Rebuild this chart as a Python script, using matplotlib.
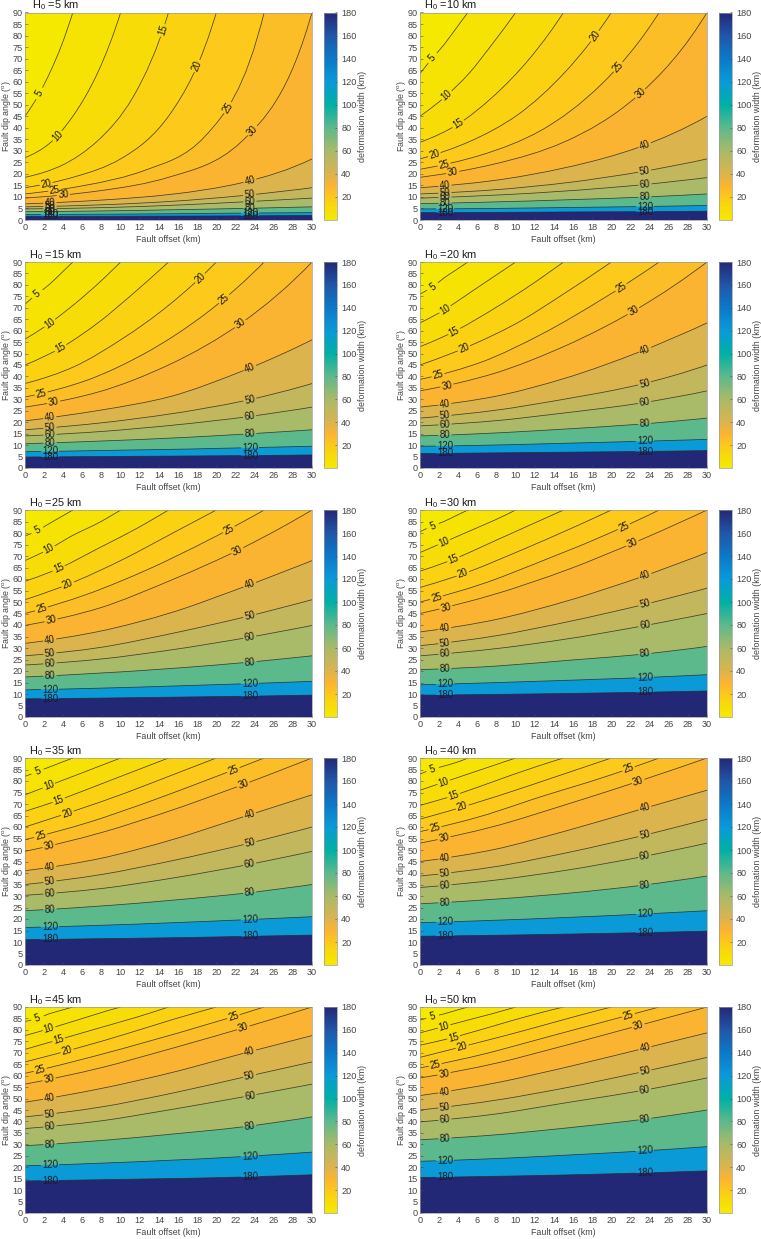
import matplotlib
matplotlib.use('Agg')
import matplotlib.pyplot as plt
import numpy as np
from matplotlib.colors import LinearSegmentedColormap, Normalize
from matplotlib.cm import ScalarMappable
from matplotlib.path import Path
from matplotlib.patches import PathPatch

plt.rcParams['font.family'] = ['Liberation Sans', 'DejaVu Sans']
plt.rcParams['mathtext.fontset'] = 'custom'
plt.rcParams['mathtext.rm'] = 'Liberation Sans'
plt.rcParams['mathtext.default'] = 'regular'

FIG_W, FIG_H = 761, 1239
GREY = '#454545'

# --- Contour levels, deformation width (km) ---
LEVELS = [5, 10, 15, 20, 25, 30, 40, 50, 60, 80, 120, 180]

OFFSETS = [
    [0, 1.25, 2.5, 3.75, 5],
    [0, 2.5, 5, 7.5, 10],
    [0, 3.75, 7.5, 11.25, 15],
    [0, 5, 10, 15, 20],
    [0, 6.25, 12.5, 18.75, 25],
    [0, 7.5, 15, 22.5, 30],
    [0, 7.5, 15, 22.5, 30],
    [0, 7.5, 15, 22.5, 30],
    [0, 7.5, 15, 22.5, 30],
    [0, 7.5, 15, 22.5, 30],
    [0, 7.5, 15, 22.5, 30],
    [0, 7.5, 15, 22.5, 30],
]

# --- Dip angle (deg) of each contour, one row per level ---
DIP_H05 = [
    [45, 53, 63, 75, 90], [27, 33, 45, 63, 90], [18.5, 23.5, 34, 53, 90],
    [14, 18.5, 26.5, 45, 90], [11.3, 15, 21.5, 36, 90], [9.5, 12.5, 18.5, 33.5, 90],
    [7, 8.5, 11, 16, 26.5], [5.7, 6.5, 8, 10.5, 14], [4.8, 5.3, 6.3, 7.8, 9.5],
    [3.6, 3.9, 4.4, 5, 5.7], [2.4, 2.5, 2.7, 3, 3.2], [1.6, 1.6, 1.7, 1.8, 2],
]
DIP_H10 = [
    [63.5, 70, 76, 83, 90], [45, 53, 63, 76, 90], [33.7, 41, 53, 69, 90],
    [26.5, 33.7, 45, 63.4, 90], [22, 28, 38.5, 58, 90], [18.5, 24, 33.7, 53, 90],
    [14, 17, 22.5, 31, 45], [11.3, 13, 16, 20.5, 26.5], [9.5, 10.7, 12.5, 15, 18.4],
    [7.1, 7.8, 8.7, 9.8, 11.3], [4.8, 5, 5.4, 5.8, 6.3], [3.2, 3.3, 3.5, 3.6, 3.8],
]
DIP_H15 = [
    [71.6, 76, 80, 85, 90], [56.3, 63, 71, 80, 90], [45, 52.5, 63, 76, 90],
    [36.9, 44, 56, 71, 90], [31, 38, 50, 67, 90], [26.6, 33, 45, 63, 90],
    [20.6, 25, 31, 42, 56], [16.7, 19.5, 23.5, 29, 36.9], [14, 15.8, 18.5, 22, 26.6],
    [10.6, 11.7, 13, 14.7, 16.7], [7.1, 7.6, 8.1, 8.8, 9.5], [4.8, 5, 5.2, 5.4, 5.7],
]
DIP_H20 = [
    [76, 79, 83, 86.5, 90], [63.4, 69, 76, 83, 90], [53, 60, 69, 79, 90],
    [45, 53, 63, 76, 90], [38.7, 46, 58, 73, 90], [33.7, 41, 53, 69, 90],
    [26.6, 31, 39, 50, 63.4], [21.8, 25, 30, 36, 45], [18.4, 20.5, 24, 28, 33.7],
    [14, 15.2, 17, 19, 21.8], [9.5, 10, 10.8, 11.6, 12.5], [6.3, 6.6, 6.9, 7.2, 7.6],
]
DIP_H25 = [
    [78.7, 81, 84, 87, 90], [68, 73, 79, 84, 90], [59, 65, 73, 81, 90],
    [51, 58.5, 68, 79, 90], [45, 53, 63.5, 76, 90], [39.8, 47, 59, 73, 90],
    [32, 37, 45, 56, 68], [26.6, 30, 36, 43, 51], [22.6, 25, 29, 34, 39.8],
    [17.4, 19, 21, 23.5, 26.6], [11.8, 12.5, 13.4, 14.4, 15.5], [7.9, 8.2, 8.6, 9, 9.5],
]
DIP_H30 = [
    [80.5, 83, 85, 87.5, 90], [71.5, 76, 80.5, 85, 90], [63.4, 69, 76, 83, 90],
    [56.3, 63, 71.5, 80.5, 90], [50, 57.5, 67.4, 78, 90], [45, 53, 63.4, 76, 90],
    [37, 42, 50, 60, 71.5], [31, 35, 41, 48, 56], [26.6, 29.5, 33.7, 39, 45],
    [20.6, 22, 24.5, 27, 30.7], [14, 14.9, 15.9, 17, 18.4], [9.5, 9.8, 10.2, 10.7, 11.3],
]
DIP_H35 = [
    [82, 84, 86, 88, 90], [74, 78, 82, 86, 90], [66.8, 72, 78, 84, 90],
    [60, 66.8, 74, 82, 90], [54.5, 61.5, 70.3, 80, 90], [49.4, 57, 66.8, 78, 90],
    [41, 46, 54, 64, 74], [35, 39, 45, 52, 60], [30.3, 33, 37.5, 43, 49.4],
    [23.6, 25.5, 28, 31, 35], [16.3, 17.2, 18.3, 19.6, 21], [11, 11.4, 11.8, 12.4, 13],
]
DIP_H40 = [
    [83, 85, 86.5, 88, 90], [76, 79.5, 83, 86.5, 90], [69.4, 74, 79.5, 85, 90],
    [63.4, 69.4, 76, 83, 90], [58, 64.5, 73, 81, 90], [53, 60, 69.4, 79.4, 90],
    [45, 50, 58, 67, 76], [38.7, 42.5, 48.5, 55.5, 63.4], [33.7, 36.7, 41, 46.5, 53],
    [26.6, 28.5, 31, 34.3, 38.7], [18.4, 19.4, 20.6, 22, 23.6], [12.5, 12.9, 13.4, 14, 14.7],
]
DIP_H45 = [
    [83.7, 85, 87, 88.5, 90], [77.5, 80.5, 83.7, 87, 90], [71.5, 76, 80.5, 85, 90],
    [66, 71.5, 77.5, 84, 90], [61, 67.4, 74.5, 82, 90], [56.3, 63, 71.5, 80.5, 90],
    [48.4, 54, 61, 69.4, 77.5], [42, 46, 52, 59, 66], [36.9, 40, 45, 50.5, 56.3],
    [29.4, 31.5, 34.3, 37.5, 42], [20.6, 21.7, 23, 24.6, 26.6], [14, 14.5, 15, 15.7, 16.7],
]
DIP_H50 = [
    [84.3, 85.7, 87, 88.5, 90], [78.7, 81.5, 84.3, 87, 90], [73.3, 77, 81.5, 86, 90],
    [68, 73.3, 78.7, 84.5, 90], [63.4, 69, 76, 83, 90], [59, 65, 73, 81.5, 90],
    [51.3, 56.5, 63.4, 71, 78.7], [45, 49, 54.5, 61, 68], [39.8, 43, 48, 53, 59],
    [32, 34, 37, 40.5, 45], [22.6, 23.7, 25.2, 26.9, 29], [15.5, 16, 16.6, 17.4, 18.4],
]

# --- Offsets (km) of the inline contour labels, one row per level ---
LOW = [2.6, 23.5]
LABELS_H05 = [[1.5], [3.4], [14.4], [2.2, 18], [3.1, 21.2], [4, 23.8], LOW, LOW, LOW, LOW, LOW, LOW]
LABELS_H10 = [[1.3], [2.8], [4], [1.5, 18.3], [2.5, 20.7], [3.4, 23], LOW, LOW, LOW, LOW, LOW, LOW]
LABELS_H15 = [[1.3], [2.6], [3.7], [18.3], [1.7, 20.8], [3, 22.5], LOW, LOW, LOW, LOW, LOW, LOW]
LABELS_H20 = [[1.3], [2.6], [3.6], [4.6], [1.9, 21], [2.8, 22.3], LOW, LOW, LOW, LOW, LOW, LOW]
LABELS_H25 = [[1.3], [2.5], [3.5], [4.5], [1.7, 21.3], [2.7, 22.2], LOW, LOW, LOW, LOW, LOW, LOW]
LABELS_H30 = LABELS_H25
LABELS_H35 = [[1.3], [2.5], [3.5], [4.4], [1.6, 21.8], [2.5, 22.8], LOW, LOW, LOW, LOW, LOW, LOW]

DEPTHS = [5, 10, 15, 20, 25, 30, 35, 40, 45, 50]
DIPS = [DIP_H05, DIP_H10, DIP_H15, DIP_H20, DIP_H25, DIP_H30, DIP_H35, DIP_H40, DIP_H45, DIP_H50]
LABEL_OFFSETS = [LABELS_H05, LABELS_H10, LABELS_H15, LABELS_H20, LABELS_H25, LABELS_H30,
                 LABELS_H35, LABELS_H35, LABELS_H35, LABELS_H35]

# --- Colour scale ---
CBAR_VALUES = [0, 10, 20, 30, 40, 60, 80, 100, 120, 140, 160, 180]
CBAR_COLOURS = ['#f5e900', '#f8dc08', '#fdc81c', '#fbb432', '#dbb44f', '#a9ba68',
                '#5cb98c', '#00b0a5', '#0a9ad8', '#0c78c8', '#2056a8', '#232876']
norm = Normalize(0, 180)
cmap = LinearSegmentedColormap.from_list(
    'width', [(v / 180, c) for v, c in zip(CBAR_VALUES, CBAR_COLOURS)], N=512)

# Pixel boxes of the panels
COL_X = [(25, 312, 324, 337), (420, 707, 719, 732)]
ROW_Y = [(12.5, 220), (262, 468), (510, 717), (758, 965), (1007, 1213)]


def px_box(x0, x1, y0, y1):
    return [x0 / FIG_W, 1 - y1 / FIG_H, (x1 - x0) / FIG_W, (y1 - y0) / FIG_H]


def curve_path(x, y):
    # Bezier path through the read points, tangents from neighbouring slopes
    x, y = np.asarray(x, dtype=float), np.asarray(y, dtype=float)
    h = x[1] - x[0]
    d = np.maximum(np.diff(y), 1e-3)
    m = np.zeros(len(y))
    m[1:-1] = np.sqrt(d[:-1] * d[1:])
    m[0] = d[0] ** 2 / m[1]
    m[-1] = d[-1] ** 2 / m[-2]
    verts = [(x[0], y[0])]
    for i in range(len(x) - 1):
        verts += [(x[i] + h / 3, y[i] + m[i] / 3),
                  (x[i + 1] - h / 3, y[i + 1] - m[i + 1] / 3),
                  (x[i + 1], y[i + 1])]
    codes = [Path.MOVETO] + [Path.CURVE4] * (len(verts) - 1)
    return verts, codes


def draw_panel(ax, depth, dips, label_offsets, title_dx):
    ax.set_xlim(0, 30)
    ax.set_ylim(0, 90)
    ax.set_facecolor(cmap(norm(0)))

    # Bands, painted from the top of the panel downwards
    for level, xs, ys in zip(LEVELS, OFFSETS, dips):
        verts, codes = curve_path(xs, ys)
        closed = verts + [(30, 90), (30, 0), (0, 0), (0, ys[0])]
        if xs[-1] == 30:
            closed = verts + [(30, 0), (0, 0), (0, ys[0])]
        patch_codes = codes + [Path.LINETO] * (len(closed) - len(verts) - 1) + [Path.CLOSEPOLY]
        ax.add_patch(PathPatch(Path(closed, patch_codes), fc=cmap(norm(level)), ec='none', zorder=1))

    # Lines with gaps for the labels
    for level, xs, ys, lab_x in zip(LEVELS, OFFSETS, dips, label_offsets):
        verts, codes = curve_path(xs, ys)
        poly = Path(verts, codes).transformed(ax.transData).to_polygons(closed_only=False)[0]
        seg = np.hypot(*np.diff(poly, axis=0).T)
        dist = np.concatenate([[0], np.cumsum(seg)])
        t = np.arange(0, dist[-1], 0.5)
        px = np.interp(t, dist, poly[:, 0])
        py = np.interp(t, dist, poly[:, 1])
        half = 9.5 if level >= 100 else 7
        keep = np.ones(len(t), dtype=bool)
        labels = []
        for x_km in lab_x:
            x_px = ax.transData.transform((x_km, 0))[0]
            k = int(np.argmin(np.abs(px - x_px)))
            a, b = max(k - 6, 0), min(k + 6, len(px) - 1)
            angle = np.degrees(np.arctan2(py[b] - py[a], px[b] - px[a]))
            labels.append((px[k], py[k], angle))
            keep[np.abs(t - t[k]) < half] = False
        line = ax.transData.inverted().transform(np.column_stack([px, py]))
        line[~keep, 1] = np.nan
        ax.plot(line[:, 0], line[:, 1], color='#2a2a20', lw=0.55, alpha=0.85, zorder=2)
        for lx, ly, angle in labels:
            dx, dy = ax.transData.inverted().transform((lx, ly))
            ax.text(dx, dy, str(level), fontsize=7, color='#1c1c1c', ha='center', va='center',
                    rotation=angle, rotation_mode='anchor', zorder=3)

    ax.set_xticks(np.arange(0, 31, 2))
    ax.set_yticks(np.arange(0, 91, 5))
    ax.tick_params(direction='in', length=2, width=0.4, color=GREY, labelcolor=GREY,
                   labelsize=6.6, pad=1.5)
    ax.tick_params(axis='x', pad=2.5)
    for spine in ax.spines.values():
        spine.set_linewidth(0.5)
        spine.set_color('#9a9a9a')
    ax.set_xlabel('Fault offset (km)', fontsize=6.4, color=GREY, labelpad=1.5)
    ax.set_ylabel('Fault dip angle ($^{o}$)', fontsize=6.4, color=GREY, va='center')
    ax.yaxis.set_label_coords(-18 / 287, 0.5)
    ax.text(title_dx / 287, 1 + 7 / 207, f'$H_{{0}}$ ={depth} km', transform=ax.transAxes,
            fontsize=7.9, color='#1c1c1c', ha='left', va='center')


def main():
    fig = plt.figure(figsize=(FIG_W / 100, FIG_H / 100), dpi=100)
    for i, (depth, dips, labs) in enumerate(zip(DEPTHS, DIPS, LABEL_OFFSETS)):
        x0, x1, c0, c1 = COL_X[i % 2]
        y0, y1 = ROW_Y[i // 2]
        ax = fig.add_axes(px_box(x0, x1, y0, y1))
        draw_panel(ax, depth, dips, labs, 7 if i == 0 else 4)

        cax = fig.add_axes(px_box(c0, c1, y0, y1))
        cbar = fig.colorbar(ScalarMappable(norm=norm, cmap=cmap), cax=cax,
                            ticks=np.arange(20, 181, 20))
        cbar.ax.tick_params(direction='in', length=1.5, width=0.4, color=GREY, labelcolor=GREY,
                            labelsize=6.6, pad=3)
        cbar.outline.set_linewidth(0.5)
        cbar.outline.set_edgecolor('#9a9a9a')
        cbar.set_label('deformation width (km)', fontsize=6.4, color=GREY, labelpad=1)

    fig.savefig('out.png', dpi=100)
    plt.close(fig)


if __name__ == "__main__":
    main()
